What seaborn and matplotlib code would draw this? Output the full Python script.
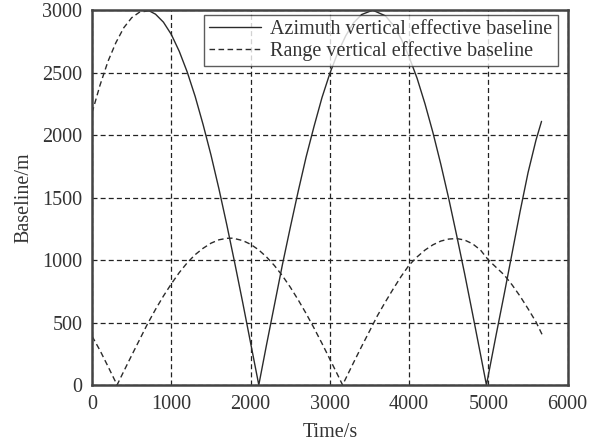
import numpy as np
import pandas as pd
import matplotlib
matplotlib.use("Agg")
import matplotlib.pyplot as plt
import seaborn as sns

# azimuth vertical effective baseline (solid part, from ~720 s on)
az_time = [720, 800, 900, 1000, 1100, 1200, 1300, 1400, 1500, 1600, 1700, 1800,
           1900, 2000, 2103, 2200, 2300, 2400, 2500, 2600, 2700, 2800, 2900, 3000,
           3100, 3200, 3300, 3400, 3540, 3700, 3800, 3900, 4000, 4100, 4200, 4300,
           4400, 4500, 4600, 4700, 4800, 4900, 4975, 5100, 5200, 5300, 5400, 5500,
           5600, 5670]
az_base = [2995, 2968, 2904, 2805, 2670, 2505, 2310, 2085, 1840, 1570, 1280, 975,
           660, 335, 0, 320, 640, 960, 1260, 1550, 1825, 2070, 2300, 2495,
           2660, 2795, 2900, 2965, 3000, 2955, 2880, 2770, 2625, 2455, 2250, 2020,
           1765, 1490, 1195, 890, 570, 245, 0, 410, 730, 1060, 1390, 1700,
           1960, 2110]

# start of the azimuth curve, drawn dashed in the original
az_head_time = [0, 100, 200, 300, 400, 500, 600, 720]
az_head_base = [2180, 2400, 2590, 2740, 2860, 2940, 2985, 2995]

# range vertical effective baseline
rg_time = [0, 100, 200, 315, 400, 500, 600, 700, 800, 900, 1000, 1100, 1200, 1300,
           1400, 1500, 1600, 1700, 1776, 1900, 2000, 2100, 2200, 2300, 2400, 2500,
           2600, 2700, 2800, 2900, 3000, 3100, 3160, 3300, 3400, 3500, 3600, 3700,
           3800, 3900, 4000, 4100, 4200, 4300, 4400, 4500, 4600, 4700, 4800, 4900,
           5000, 5100, 5200, 5300, 5400, 5500, 5600, 5680]
rg_base = [390, 276, 149, 0, 110, 238, 364, 490, 605, 712, 810, 900, 978, 1043,
           1094, 1135, 1162, 1174, 1175, 1156, 1126, 1082, 1025, 956, 875, 783,
           681, 572, 455, 333, 206, 78, 0, 181, 308, 431, 555, 665,
           770, 870, 960, 1025, 1080, 1122, 1152, 1168, 1172, 1160, 1130, 1080,
           1000, 940, 880, 800, 710, 610, 505, 400]

x_ticks = [0, 1000, 2000, 3000, 4000, 5000, 6000]
y_ticks = [0, 500, 1000, 1500, 2000, 2500, 3000]

az = pd.DataFrame({"time": az_time, "baseline": az_base})
az_head = pd.DataFrame({"time": az_head_time, "baseline": az_head_base})
rg = pd.DataFrame({"time": rg_time, "baseline": rg_base})

sns.set_theme(style="white")
plt.rcParams["font.family"] = ["Liberation Serif", "DejaVu Serif"]

fig = plt.figure(figsize=(6.02, 4.43), dpi=100)
ax = fig.add_axes([0.153, 0.131, 0.790, 0.846])

line_col = "#2b2b2b"
dash = (0, (4, 2.5))
sns.lineplot(data=az, x="time", y="baseline", ax=ax, color=line_col, lw=1.0,
             label="Azimuth vertical effective baseline", sort=False)
sns.lineplot(data=rg, x="time", y="baseline", ax=ax, color=line_col, lw=1.0,
             label="Range vertical effective baseline", sort=False)
ax.lines[-1].set_linestyle(dash)
sns.lineplot(data=az_head, x="time", y="baseline", ax=ax, color=line_col, lw=1.0,
             legend=False, sort=False)
ax.lines[-1].set_linestyle(dash)

ax.set_xlim(0, 6000)
ax.set_ylim(0, 3000)
ax.set_xticks(x_ticks)
ax.set_yticks(y_ticks)
ax.tick_params(labelsize=14.5, colors="#333333", direction="in", length=0, pad=7)
ax.grid(True, color="#222222", linestyle=dash, linewidth=0.9)
for s in ax.spines.values():
    s.set_color("#444444")
    s.set_linewidth(1.8)

ax.set_xlabel("Time/s", fontsize=14.5, color="#333333", labelpad=7)
ax.set_ylabel("Baseline/m", fontsize=14.5, color="#333333", labelpad=6)

handles, labels = ax.get_legend_handles_labels()
handles[1].set_linestyle(dash)
leg = ax.legend(handles[:2], labels[:2], loc="upper right",
                bbox_to_anchor=(0.979, 0.987), fontsize=14.5,
                frameon=True, fancybox=False, handlelength=2.6, borderpad=0.25,
                labelspacing=0.1, borderaxespad=0.0, handletextpad=0.45)
leg.get_frame().set_edgecolor("#333333")
leg.get_frame().set_linewidth(1.0)
for t in leg.get_texts():
    t.set_color("#333333")

fig.savefig("out.png", dpi=100)
